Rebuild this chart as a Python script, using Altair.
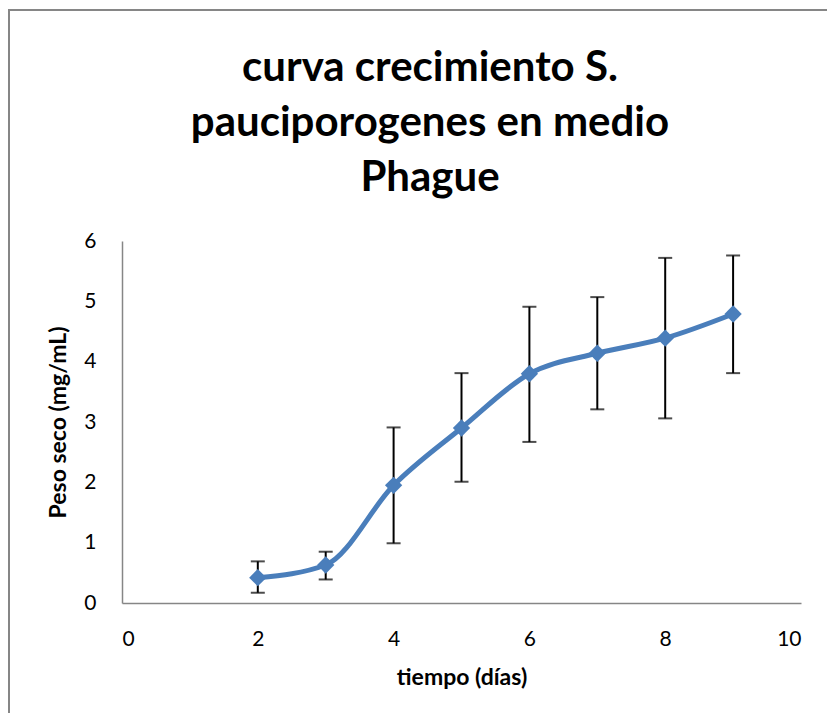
import altair as alt
import pandas as pd

dias = [2, 3, 4, 5, 6, 7, 8, 9]
peso = [0.42, 0.63, 1.95, 2.90, 3.80, 4.14, 4.39, 4.79]
err_hi = [0.69, 0.85, 2.91, 3.81, 4.91, 5.07, 5.72, 5.76]
err_lo = [0.17, 0.39, 0.99, 2.01, 2.67, 3.21, 3.06, 3.81]
titulo = ["curva crecimiento S.", "pauciporogenes en medio", "Phague"]

df = pd.DataFrame({"dias": dias, "peso": peso, "hi": err_hi, "lo": err_lo})

FONT = "Lato"
W, H = 679, 362
PL, PT = 114, 233

x = alt.X("dias:Q", scale=alt.Scale(domain=[0, 10], nice=False),
          axis=alt.Axis(values=[0, 2, 4, 6, 8, 10], format="d", title="tiempo (días)",
                        grid=False, ticks=False, labelPadding=25,
                        titlePadding=17))
y = alt.Y("peso:Q", scale=alt.Scale(domain=[0, 6], nice=False),
          axis=alt.Axis(values=[0, 1, 2, 3, 4, 5, 6], format="d", title="Peso seco (mg/mL)",
                        grid=False, ticks=False, labelPadding=26,
                        titlePadding=13))

base = alt.Chart(df)
one = base.transform_filter("datum.dias == 2")

border = one.mark_rect(fill=None, stroke="#868686", strokeWidth=2).encode(
    x=alt.value(9 - 8 - PL), x2=alt.value(2000),
    y=alt.value(10 - 8 - PT), y2=alt.value(2000)
)

title = one.mark_text(font=FONT, fontSize=42, fontWeight="bold", color="black",
                      lineHeight=55, align="center", baseline="alphabetic").encode(
    x=alt.value(430 - 8 - PL), y=alt.value(81 - 8 - PT), text=alt.value(titulo))

rules = base.mark_rule(color="black", strokeWidth=2).encode(
    x=x, y=alt.Y("lo:Q"), y2="hi:Q")
caps_hi = base.mark_tick(color="black", thickness=2, size=14, orient="horizontal").encode(
    x="dias:Q", y="hi:Q")
caps_lo = base.mark_tick(color="black", thickness=2, size=14, orient="horizontal").encode(
    x="dias:Q", y="lo:Q")
line = base.mark_line(color="#4A7EBB", strokeWidth=5, interpolate="monotone").encode(x=x, y=y)
pts = base.mark_point(shape="diamond", filled=True, color="#4A7EBB", size=300, opacity=1).encode(
    x="dias:Q", y="peso:Q")

chart = alt.layer(border, title, rules, caps_hi, caps_lo, line, pts).properties(
    width=W, height=H,
    background="white",
    autosize=alt.AutoSizeParams(type="none"),
    padding={"left": PL, "top": PT, "right": 26, "bottom": 110},
).configure_view(stroke=None).configure_axis(
    labelFont=FONT, labelFontSize=21, labelColor="black",
    titleFont=FONT, titleFontSize=23, titleFontWeight="bold", titleColor="black",
    domainColor="#868686", domainWidth=1.5,
)

chart.save("out.html", embed_options={"renderer": "svg", "actions": False})
